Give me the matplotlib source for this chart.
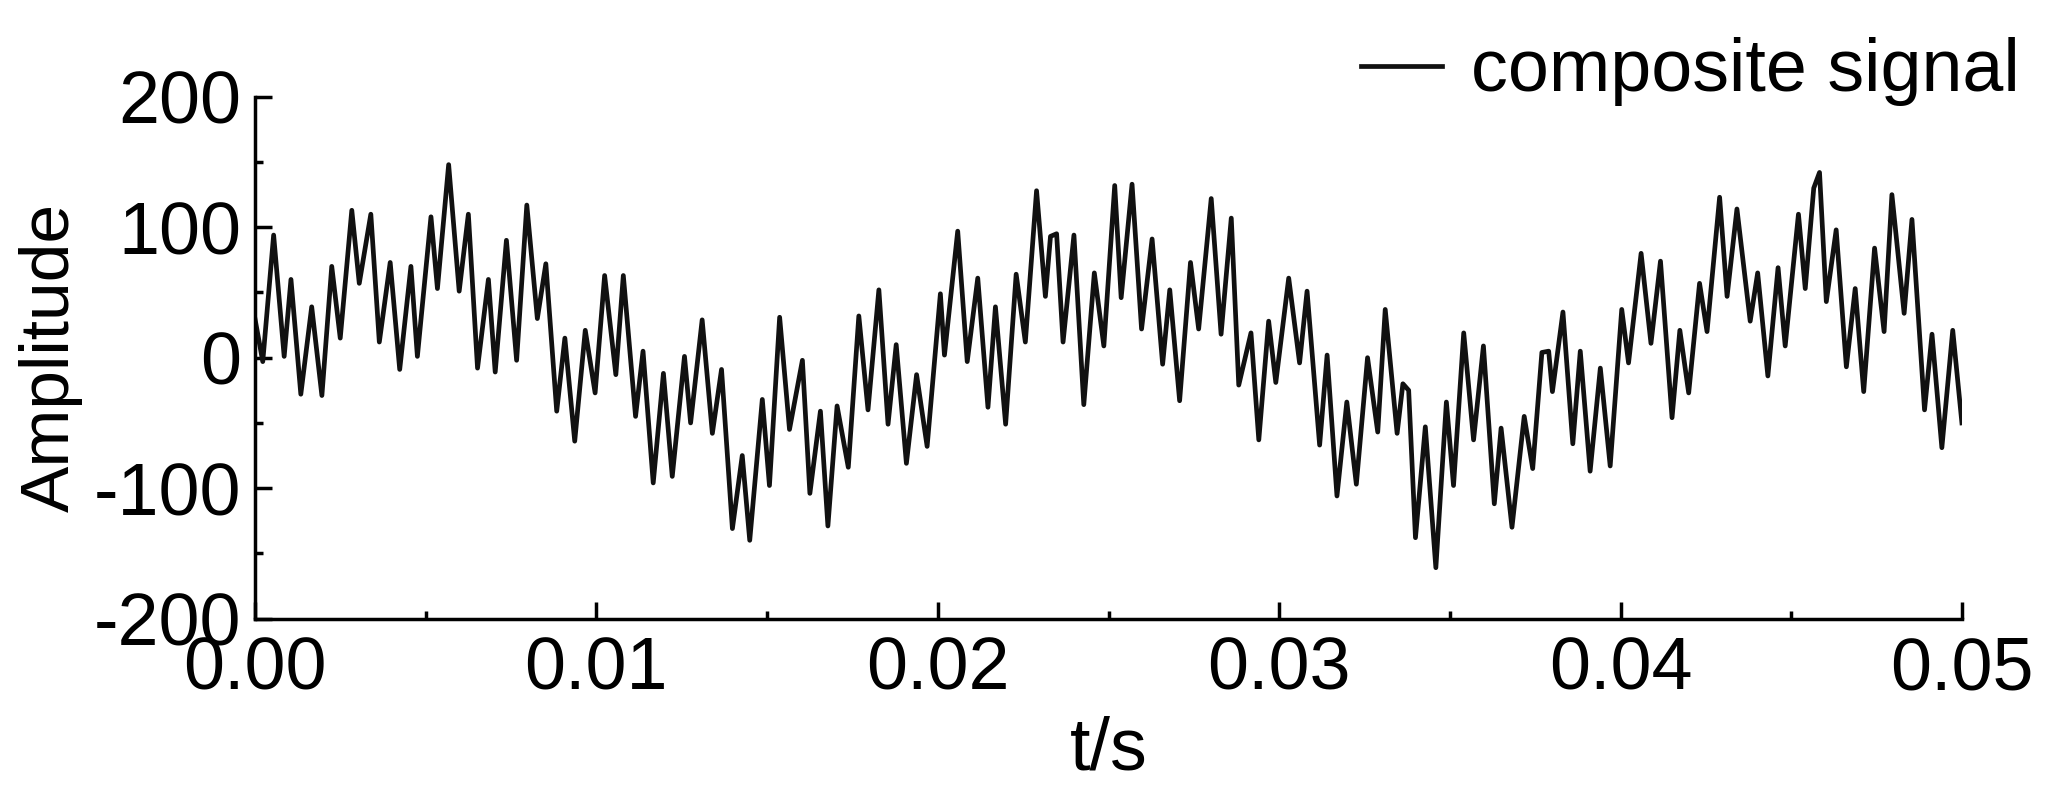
import numpy as np
import matplotlib
matplotlib.use("Agg")
import matplotlib.pyplot as plt
from matplotlib.ticker import MultipleLocator, FormatStrFormatter

# local extrema of the composite signal (time in ms, amplitude)
t_ms = [0.00, 0.23, 0.55, 0.86, 1.06, 1.35, 1.67, 1.97, 2.26, 2.51, 2.85, 3.07, 3.41, 3.66, 3.98, 4.26,
        4.59, 4.78, 5.18, 5.37, 5.70, 6.01, 6.28, 6.55, 6.87, 7.07, 7.40, 7.70, 8.00, 8.31, 8.56, 8.88,
        9.12, 9.41, 9.72, 10.01,
        10.29, 10.62, 10.84, 11.20, 11.42, 11.72, 12.02, 12.28, 12.64, 12.82, 13.16, 13.46, 13.73, 14.05,
        14.34, 14.56, 14.93, 15.14, 15.44, 15.73, 16.11, 16.33, 16.64, 16.86, 17.13, 17.46, 17.77, 18.04,
        18.36, 18.63, 18.87, 19.17, 19.47, 19.78,
        20.17, 20.29, 20.68, 20.96, 21.27, 21.57, 21.79, 22.09, 22.40, 22.67, 23.00, 23.26, 23.41, 23.59,
        23.78, 24.10, 24.39, 24.70, 24.98, 25.30, 25.49, 25.81, 26.09, 26.40, 26.71, 26.92, 27.21, 27.53,
        27.77, 28.14, 28.43, 28.73, 28.95, 29.31, 29.54, 29.83, 30.04,
        30.42, 30.74, 30.96, 31.33, 31.55, 31.84, 32.13, 32.41, 32.74, 33.04, 33.26, 33.61, 33.78, 33.95,
        34.15, 34.44, 34.75, 35.06, 35.27, 35.57, 35.86, 36.15, 36.47, 36.67, 36.99, 37.35, 37.60, 37.87,
        38.07, 38.18, 38.49, 38.78, 39.00, 39.29, 39.59, 39.88, 40.22,
        40.42, 40.79, 41.08, 41.36, 41.70, 41.93, 42.19, 42.51, 42.73, 43.10, 43.32, 43.61, 44.00, 44.22,
        44.52, 44.82, 45.03, 45.42, 45.62, 45.87, 46.04, 46.24, 46.53, 46.83, 47.09, 47.34, 47.66, 47.94,
        48.17, 48.37, 48.53, 48.76, 49.13, 49.35, 49.64, 49.96, 50.23]
amp = [30, -3, 94, 1, 60, -28, 39, -29, 70, 15, 113, 57, 110, 12, 73, -9,
       70, 1, 108, 53, 148, 51, 110, -8, 60, -11, 90, -2, 117, 30, 72, -41,
       15, -64, 21, -27,
       63, -13, 63, -45, 5, -96, -12, -91, 1, -50, 29, -58, -9, -131,
       -75, -140, -32, -98, 31, -55, -2, -104, -41, -129, -37, -84, 32, -40,
       52, -51, 10, -81, -13, -68,
       49, 2, 97, -3, 61, -38, 39, -51, 64, 12, 128, 47, 93, 95,
       12, 94, -36, 65, 9, 132, 46, 133, 22, 91, -5, 52, -33, 73,
       22, 122, 18, 107, -21, 19, -63, 28, -19,
       61, -4, 51, -67, 2, -106, -34, -97, 0, -57, 37, -58, -20, -25,
       -138, -53, -161, -34, -98, 19, -63, 9, -112, -54, -130, -45, -85, 4,
       5, -26, 35, -66, 5, -87, -8, -83, 37,
       -4, 80, 11, 74, -46, 21, -27, 57, 20, 123, 47, 114, 28, 65,
       -14, 69, 9, 110, 53, 130, 142, 43, 98, -7, 53, -26, 84, 20,
       125, 74, 34, 106, -40, 18, -69, 21, -50]

t = np.array(t_ms) / 1004.7  # ms -> s (with reading-scale correction)

plt.rcParams['font.family'] = ['Liberation Sans', 'DejaVu Sans']
plt.rcParams['axes.unicode_minus'] = False
fig = plt.figure(figsize=(20.66, 7.87), dpi=100)
ax = fig.add_axes([0.1234, 0.214, 0.8263, 0.663])
ax.plot(t, amp, color='#111111', lw=3.4, label='composite signal')
ax.set_xlim(0, 0.05)
ax.set_ylim(-200, 200)
ax.xaxis.set_major_locator(MultipleLocator(0.01))
ax.xaxis.set_minor_locator(MultipleLocator(0.005))
ax.xaxis.set_major_formatter(FormatStrFormatter('%.2f'))
ax.yaxis.set_major_locator(MultipleLocator(100))
ax.yaxis.set_minor_locator(MultipleLocator(50))
for s in ['top', 'right']:
    ax.spines[s].set_visible(False)
for s in ['left', 'bottom']:
    ax.spines[s].set_linewidth(2.5)
ax.tick_params(which='major', direction='in', length=12, width=2.5, labelsize=53)
ax.tick_params(axis='x', which='major', pad=12)
ax.tick_params(axis='y', which='major', pad=10)
ax.tick_params(which='minor', direction='in', length=6, width=2.5)
ax.set_xlabel('t/s', fontsize=53, labelpad=8)
ax.set_ylabel('Amplitude', fontsize=50, labelpad=8)
fig.legend(loc='upper right', bbox_to_anchor=(0.992, 0.99), borderaxespad=0, frameon=False,
           fontsize=53, handlelength=1.1, handletextpad=0.4)
fig.savefig('out.png', dpi=100)
